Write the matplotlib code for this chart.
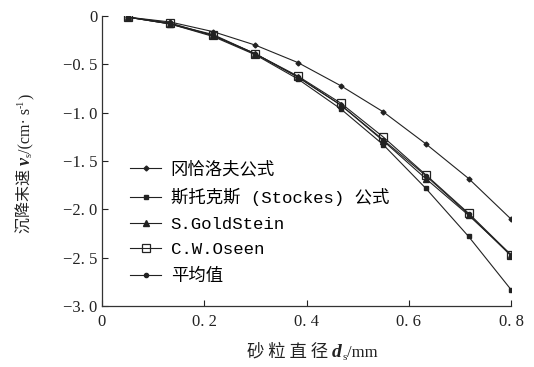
import numpy as np
import matplotlib
matplotlib.use("Agg")
from matplotlib import pyplot as plt
from matplotlib.ticker import FuncFormatter

plt.rcParams['font.family'] = ['Liberation Serif', 'Noto Sans CJK SC', 'DejaVu Sans']
plt.rcParams['axes.unicode_minus'] = True

# Data
d_s = [0.05, 0.133, 0.217, 0.3, 0.383, 0.467, 0.55, 0.633, 0.717, 0.8]
v_gonch = [-0.01, -0.06, -0.16, -0.30, -0.48, -0.72, -0.99, -1.32, -1.68, -2.10]
v_stokes = [-0.01, -0.08, -0.21, -0.40, -0.65, -0.96, -1.33, -1.78, -2.28, -2.83]
v_gold = [-0.01, -0.08, -0.19, -0.39, -0.63, -0.92, -1.29, -1.68, -2.06, -2.47]
v_oseen = [-0.01, -0.07, -0.20, -0.39, -0.62, -0.90, -1.25, -1.64, -2.04, -2.47]
v_avg = [-0.01, -0.08, -0.20, -0.39, -0.63, -0.92, -1.28, -1.65, -2.05, -2.48]

labels = ["冈恰洛夫公式", "斯托克斯 (Stockes) 公式", "S.GoldStein", "C.W.Oseen", "平均值"]

fig = plt.figure(figsize=(5.34, 3.67), dpi=100)
ax = fig.add_axes([0.191, 0.166, 0.766, 0.790])

lw = 0.8
c = '#222222'
ax.plot(d_s, v_gonch, color=c, lw=lw, marker='D', ms=2.5, label=labels[0])
ax.plot(d_s, v_stokes, color=c, lw=lw, marker='s', ms=3.5, label=labels[1])
ax.plot(d_s, v_gold, color=c, lw=lw, marker='^', ms=4, label=labels[2])
ax.plot(d_s, v_oseen, color=c, lw=lw, marker='s', ms=6, mfc='none', mew=0.9, label=labels[3])
ax.plot(d_s, v_avg, color=c, lw=lw, marker='o', ms=3, label=labels[4])

ax.set_xlim(0, 0.8)
ax.set_ylim(-3.0, 0)
ax.set_xticks([0, 0.2, 0.4, 0.6, 0.8])
ax.set_yticks([0, -0.5, -1.0, -1.5, -2.0, -2.5, -3.0])

def fmt(v, pos):
    if abs(v) < 1e-9:
        return "0"
    s = "%.1f" % abs(v)
    s = s.replace(".", ". ")
    return ("\u2212" + s) if v < 0 else s

ax.xaxis.set_major_formatter(FuncFormatter(fmt))
ax.yaxis.set_major_formatter(FuncFormatter(fmt))
ax.tick_params(direction='in', length=4, width=0.8, labelsize=12, colors='#222222')
ax.tick_params(axis='x', pad=6)
for s in ['top', 'right']:
    ax.spines[s].set_visible(False)
for s in ['left', 'bottom']:
    ax.spines[s].set_linewidth(0.9)
    ax.spines[s].set_color('#333333')

# axis labels built from pieces (bold italic symbol + subscript)
cjk = ['Noto Sans CJK SC', 'DejaVu Sans']
ser = ['Liberation Serif', 'Noto Sans CJK SC']
tc = '#222222'

x0 = fig.text(0.462, 0.028, "砂 粒 直 径 ", family=cjk, fontsize=12.5, ha='left', va='baseline', color=tc)
p1 = ax.annotate("d", xy=(1, 0), xycoords=x0, va='bottom', ha='left', family=ser,
                 fontsize=14, weight='bold', style='italic', color=tc, annotation_clip=False)
p2 = ax.annotate("s", xy=(1, 0), xycoords=p1, xytext=(0.5, -1), textcoords='offset points',
                 va='bottom', ha='left', family=ser, fontsize=8, color=tc, annotation_clip=False)
p3 = ax.annotate("/mm", xy=(1, 0), xycoords=p2, xytext=(0, 1), textcoords='offset points',
                 va='bottom', ha='left', family=ser, fontsize=12, color=tc, annotation_clip=False)

y0 = fig.text(0.047, 0.365, "沉降末速 ", family=cjk, fontsize=11.5, rotation=90,
              ha='center', va='bottom', color=tc)
q1 = ax.annotate("v", xy=(0.5, 1), xycoords=y0, va='bottom', ha='center', rotation=90, family=ser,
                 fontsize=13, weight='bold', style='italic', color=tc, annotation_clip=False)
q2 = ax.annotate("s", xy=(0.5, 1), xycoords=q1, xytext=(3, 0.5), textcoords='offset points', rotation=90,
                 va='bottom', ha='center', family=ser, fontsize=7.5, color=tc, annotation_clip=False)
q3 = ax.annotate("/(cm· s", xy=(0.5, 1), xycoords=q2, xytext=(-2, 0), textcoords='offset points', rotation=90,
                 va='bottom', ha='center', family=ser, fontsize=11.5, color=tc, annotation_clip=False)
q4 = ax.annotate("-1", xy=(0.5, 1), xycoords=q3, xytext=(-4, 0), textcoords='offset points', rotation=90,
                 va='bottom', ha='center', family=ser, fontsize=7, color=tc, annotation_clip=False)
q5 = ax.annotate(")", xy=(0.5, 1), xycoords=q4, xytext=(4, 0), textcoords='offset points', rotation=90,
                 va='bottom', ha='center', family=ser, fontsize=11.5, color=tc, annotation_clip=False)

ax.legend(loc='upper left', bbox_to_anchor=(0.03, 0.555), frameon=False,
          prop={'family': ['Liberation Mono', 'Noto Sans CJK SC'], 'size': 12.5},
          handlelength=1.8, handletextpad=0.55, labelspacing=0.6)

fig.savefig("out.png", dpi=100)
